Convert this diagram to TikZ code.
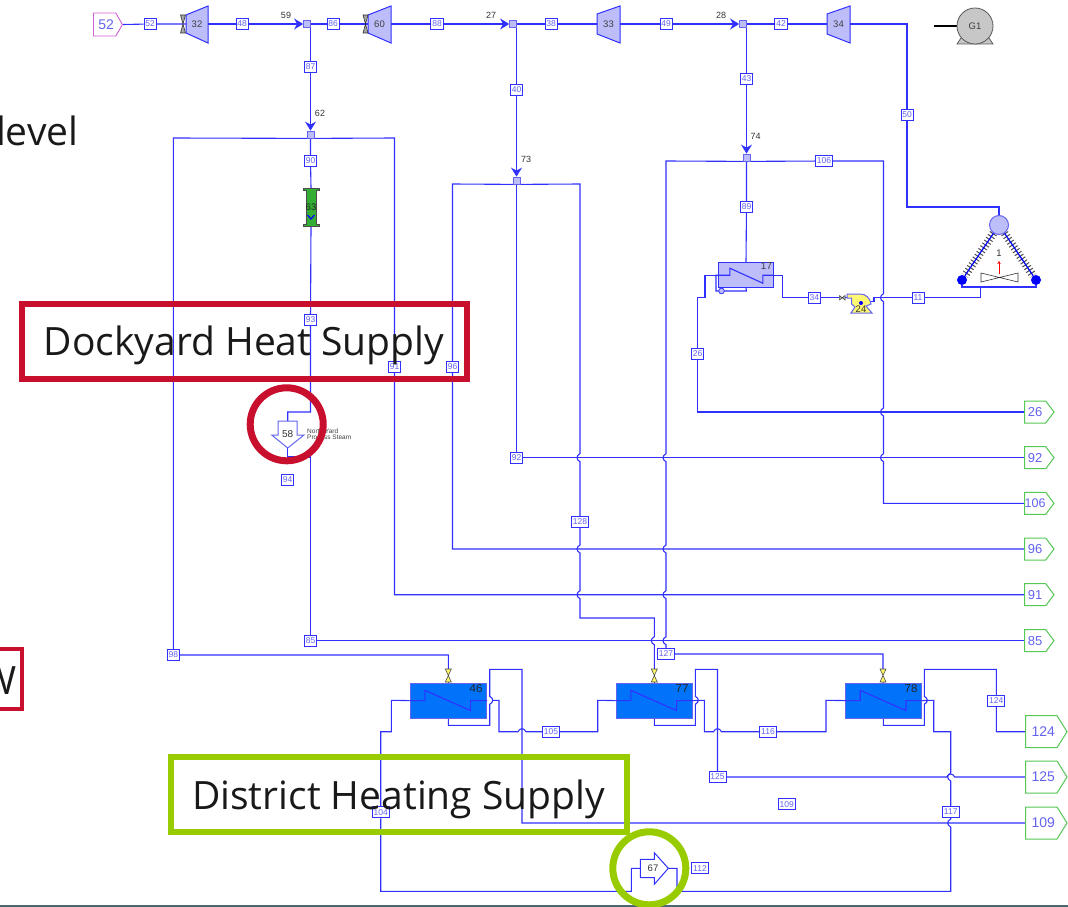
\documentclass[tikz,border=0pt]{standalone}
\usepackage{fontspec}
\setmainfont{Liberation Sans}
\newfontfamily\bigf{Open Sans}
\usetikzlibrary{arrows.meta,backgrounds,shapes.symbols,calc}
\definecolor{ln}{HTML}{3030FF}
\definecolor{lt}{HTML}{6464F0}
\definecolor{eq}{HTML}{BDBDFA}
\definecolor{hx}{HTML}{0073FA}
\definecolor{crim}{HTML}{C8102E}
\definecolor{lime}{HTML}{99CC00}
\definecolor{grn}{HTML}{55C855}
\definecolor{pink}{HTML}{D060D8}
\definecolor{slate}{HTML}{4A6670}
\newcommand\fs[1]{\fontsize{#1}{#1}\selectfont}
% bump to the left (or right) on a downward vertical run
\newcommand\vjl[2]{-- (#1,#2-4) .. controls (#1-4,#2-2) and (#1-4,#2+2) .. (#1,#2+4)}
\newcommand\vjr[2]{-- (#1,#2+4) .. controls (#1+4,#2+2) and (#1+4,#2-2) .. (#1,#2-4)}
% bump upward on a rightward horizontal run
\newcommand\hju[2]{-- (#1-4,#2) .. controls (#1-2,#2-4) and (#1+2,#2-4) .. (#1+4,#2)}
\tikzset{
  conn/.style={draw=ln,line width=1.1pt},
  arr/.style={conn,-{Stealth[length=9pt,width=11pt,inset=3pt]}},
  sl/.style={draw=ln,fill=white,text=lt,font=\fs{8.5},inner sep=0pt,minimum height=11pt,minimum width=12pt,line width=0.9pt},
  slw/.style={sl,minimum width=17pt},
  junc/.style={draw=lt,fill=eq,minimum size=7pt,inner sep=0pt,line width=0.8pt},
  tag/.style={text=black!80,font=\fs{9},inner sep=0pt},
  turb/.style={draw=ln,fill=eq,line width=1pt},
  turbt/.style={text=black!75,font=\fs{9.5},inner sep=0pt,minimum width=22pt,minimum height=10pt},
  hxr/.style={draw=lt,fill=hx,minimum height=34.7pt,inner sep=0pt,line width=0.7pt},
  hxt/.style={text=black!85,font=\fs{11.5},inner sep=0pt},
  vlv/.style={minimum width=8pt,minimum height=13pt,inner sep=0pt},
  outs/.style={shape=signal,signal to=east,signal from=nowhere,signal pointer angle=106,draw=grn,fill=white,text=lt,font=\fs{13},minimum width=29.5pt,minimum height=22pt,inner sep=0pt,line width=1pt,anchor=west},
  outb/.style={outs,signal pointer angle=116,font=\fs{14},minimum width=41.5pt,minimum height=32pt},
  redbox/.style={draw=crim,line width=6pt,inner sep=0pt},
  limebox/.style={draw=lime,line width=6pt,inner sep=0pt},
  bigt/.style={font=\bigf\fs{39},text=black!90},
  ring/.style={circle,line width=7pt,minimum size=73pt,inner sep=0pt},
  spring/.style={draw=black!70,line width=8pt,dash pattern=on 1pt off 2.4pt},
}
\begin{document}
\begin{tikzpicture}[x=1pt,y=-1pt]
\useasboundingbox (0,0) rectangle (1068,907);
\clip (0,0) rectangle (1068,907);
\fill[slate] (0,905) rectangle (1068,907);

% ---------- top row ----------
\node[shape=signal,signal to=east,signal from=nowhere,signal pointer angle=120,draw=pink,fill=white,text=lt,font=\fs{14},minimum width=29pt,minimum height=23pt,inner sep=0pt,line width=0.9pt,anchor=west] (i52) at (93,24.5) {\hspace*{3pt}52};
\node[sl] (l52) at (150,24) {52};
\fill[turb] (186,15) -- (208,6) -- (208,43) -- (186,33) -- cycle;
\node[turbt] (t32) at (197,24) {32};
\node[sl] (l48) at (242,24) {48};
\node[junc] (j59) at (307,24) {};
\node[tag] (n59) at (286,15) {59};
\node[sl] (l86) at (333,24) {86};
\fill[turb] (368,15) -- (391,6) -- (391,43) -- (368,33) -- cycle;
\node[turbt] (t60) at (379.5,24) {60};
\node[sl,minimum width=13pt] (l88) at (437,24) {88};
\node[junc] (j27) at (513,24) {};
\node[tag] (n27) at (491,15) {27};
\node[sl] (l38) at (551,24) {38};
\fill[turb] (597,14) -- (620,6) -- (620,43) -- (597,34) -- cycle;
\node[turbt] (t33) at (608.5,24) {33};
\node[sl] (l49) at (666,24) {49};
\node[junc] (j28) at (743,24) {};
\node[tag] (n28) at (721,15) {28};
\node[sl,minimum width=13pt] (l42) at (781,24) {42};
\fill[turb] (827,14) -- (850,6) -- (850,43) -- (827,34) -- cycle;
\node[turbt] (t34) at (838.5,24) {34};
% turbine inlet valves
\foreach \x in {183,365.5}{
  \fill[draw=black!80,fill=black!35,line width=0.6pt] (\x-2.5,15) -- (\x+2.5,15) -- (\x-2.5,33) -- (\x+2.5,33) -- cycle;
}
% generator
\draw[black,line width=2.2pt] (933.5,26) -- (958,26);
\fill[draw=black!65,fill=black!22,line width=0.8pt] (957,44) -- (993,44) -- (989,38) -- (961,38) -- cycle;
\node[circle,draw=black!65,fill=black!22,line width=0.8pt,minimum size=36pt,inner sep=0pt,font=\fs{9.5},text=black!75] (g1) at (975,26) {G1};

% ---------- stems ----------
\node[sl] (l87) at (310.5,67) {87};
\node[sl] (l40) at (516.5,90) {40};
\node[sl] (l43) at (746.5,79) {43};
\node[junc] (j62) at (310.5,134.5) {};
\node[tag] (n62) at (320,113) {62};
\node[junc] (j73) at (516.5,180.5) {};
\node[tag] (n73) at (526,159) {73};
\node[junc] (j74) at (746.5,157.5) {};
\node[tag] (n74) at (755.5,136) {74};
\node[sl] (l90) at (310.5,161) {90};
\node[sl] (l89) at (746.5,207) {89};
\node[slw] (l106) at (824,161) {106};
\node[sl] (l50) at (907,115) {50};

% drum 63
\fill[draw=black!70,fill=green!60!black!80,line width=0.8pt] (303,188) -- (319,188) -- (319,190) -- (316,190) -- (316,224) -- (319,224) -- (319,226) -- (303,226) -- (303,224) -- (306,224) -- (306,190) -- (303,190) -- cycle;
\node[font=\fs{9.5},text=black!85,inner sep=0pt,minimum width=10pt,minimum height=38pt] (d63) at (311,207) {63};
\draw[blue,line width=1.2pt] (307.5,215) -- (311,219) -- (314.5,215);
\node[sl] (l93) at (310.5,320) {93};

% process steam sink 58
\fill[draw=lt,fill=white,line width=1pt] (278,421) -- (297,421) -- (297,435) -- (304,435) -- (287.7,448) -- (271.7,435) -- (278,435) -- cycle;
\node[tag,font=\fs{10}] (n58) at (287.7,434.5) {58};
\coordinate (s58i) at (287.7,421);
\coordinate (s58o) at (287.7,448);
\node[text=black!75,font=\fs{6.5},inner sep=0pt,anchor=west,align=left] (t58) at (307,434.5) {North Yard\\[-0.6pt]Process Steam};
\node[sl] (l94) at (287.7,480) {94};
\node[sl] (l85) at (310.5,640.7) {85};
\node[sl] (l98) at (173.3,655) {98};
\node[sl] (l91) at (394.5,367) {91};
\node[sl] (l96) at (452.5,367) {96};
\node[sl] (l92) at (516.5,457.7) {92};
\node[slw] (l128) at (580,522) {128};
\node[slw] (l127) at (666,654) {127};

% exchanger 17
\node[draw=ln,fill=eq,inner sep=0pt,minimum width=55.5pt,minimum height=25pt,line width=0.8pt] (h17) at (746,275.2) {};
\node[hxt,font=\fs{10},text=black!75] (n17) at (766.5,266.5) {17};
\node[sl] (l26) at (697.5,354) {26};
\node[sl] (l34) at (814.3,297.7) {34};
\node[sl] (l11) at (918,297.7) {11};

% pump 24
\draw[draw=black!80,fill=black!30,line width=0.5pt] (839.5,295.5) -- (839.5,300) -- (845,295.5) -- (845,300) -- cycle;
\node[inner sep=0pt,minimum size=6pt] (v24) at (842.2,297.7) {};
\fill[draw=lt,fill=yellow!55,line width=1pt] (847,294) -- (860,294) .. controls (866,294) and (870,298) .. (871,304) -- (866,306) -- (872,313) -- (851,313) -- (855,307) -- (851.5,304) -- (851.5,298) -- (847,298) -- cycle;
\fill[blue] (861,303) circle[radius=2];
\node[tag,font=\fs{9.5}] (p24) at (861,309) {24};
\coordinate (p24o) at (870,301.7);

% turbine junction 1 (triangle)
\node[circle,draw=lt,fill=eq,minimum size=19pt,inner sep=0pt,line width=1pt] (c1) at (999,225) {};
\node[circle,fill=blue,minimum size=10pt,inner sep=0pt] (d1l) at (962,280) {};
\node[circle,fill=blue,minimum size=10pt,inner sep=0pt] (d1r) at (1036,280) {};
\node[tag,font=\fs{9.5}] (n1) at (999,253) {1};
\draw[red,line width=0.8pt,-{Stealth[length=3pt,width=3.5pt]}] (999,274) -- (999,261);
\draw[black!80,line width=0.6pt,fill=white] (981,273) -- (1018,282) -- (1018,273) -- (981,282) -- cycle;

% heaters
\node[vlv] (v46) at (448.3,675.5) {};
\node[vlv] (v77) at (654.3,675.5) {};
\node[vlv] (v78) at (883,675.5) {};
\foreach \x in {448.3,654.3,883}{
  \fill[draw=black!70,fill=yellow!60,line width=0.6pt] (\x-3,669) -- (\x+3,669) -- (\x-3,682) -- (\x+3,682) -- cycle;
}
\node[hxr,minimum width=76.7pt] (h46) at (448.3,700.6) {};
\node[hxr,minimum width=76.7pt] (h77) at (654.3,700.6) {};
\node[hxr,minimum width=76pt] (h78) at (883.3,700.6) {};
\node[hxt] (n46) at (476,689) {46};
\node[hxt] (n77) at (682,689) {77};
\node[hxt] (n78) at (911,689) {78};
\foreach \h in {h46,h77,h78}{
  \draw[conn] (\h.west) ++(0,0) -- ++(15.3,0) -- ++(0,-10.3) -- ++(45.7,20.3) -- ++(0,-10) -- (\h.east);
}
\draw[conn] (h17.west) -- ++(12,0) -- ++(0,-7) -- ++(33,15) -- ++(0,-8) -- (h17.east);
\draw[draw=ln,fill=eq,line width=0.8pt] (721.5,291) circle[radius=2.8];

\node[slw] (l105) at (551,731.7) {105};
\node[slw] (l116) at (768,731.7) {116};
\node[slw] (l124) at (996.3,700.7) {124};
\node[slw] (l125) at (717.5,777) {125};
\node[slw] (l109) at (786.7,804.3) {109};
\node[slw] (l117) at (950.7,811.7) {117};
\node[slw] (l104) at (380.7,812.3) {104};
\node[slw] (l112) at (700,868.3) {112};

% flash 67
\fill[draw=ln,fill=white,line width=1pt] (640.3,859.3) -- (654.3,859.3) -- (654.3,852.7) -- (668.3,868.3) -- (654.3,884.3) -- (654.3,877.7) -- (640.3,877.7) -- cycle;
\node[tag,font=\fs{9.5}] (n67) at (653,868.3) {67};
\coordinate (f67i) at (640.3,868.3);
\coordinate (f67o) at (668.3,868.3);

% outputs
\node[outs] (o85) at (1024,640.7) {85};
\node[outs] (o91) at (1024,594.7) {91};
\node[outs] (o96) at (1024,549) {96};
\node[outs,font=\fs{12.5}] (o106) at (1024,503.3) {106};
\node[outs] (o92) at (1024,457.7) {92};
\node[outs] (o26) at (1024,412) {26};
\node[outb] (o124) at (1025,731.7) {\hspace*{4pt}124};
\node[outb] (o125) at (1025,777) {\hspace*{4pt}125};
\node[outb] (o109) at (1025,823) {\hspace*{4pt}109};

% ---------- connectors ----------
\begin{scope}[on background layer]
\draw[conn] (i52.east) -- (l52) -- (t32.center);
\draw[arr] (t32.center) -- (l48) -- (j59.west);
\draw[conn] (j59.east) -- (l86) -- (t60.center);
\draw[arr] (t60.center) -- (l88) -- (j27.west);
\draw[conn] (j27.east) -- (l38) -- (t33.center);
\draw[arr] (t33.center) -- (l49) -- (j28.west);
\draw[conn] (j28.east) -- (l42) -- (t34.center);
\draw[arr] (j59.east) -- (310.5,24) -- (l87) -- (j62.north);
\draw[arr] (j27.east) -- (516.5,24) -- (l40) -- (j73.north);
\draw[arr] (j28.east) -- (746.5,24) -- (l43) -- (j74.north);
% bus 62
\draw[conn] (j62.south) -- (173.3,138) -- (l98) -- (448.3,655) -- (v46.north);
\draw[conn] (j62.south) -- (394.5,138) -- (l91) -- (394.5,594.7) -- (o91.west);
\draw[conn] (j62.south) -- (l90) -- (d63.north);
\draw[conn] (d63.south) -- (l93) -- (310.5,412) -- (287.7,412) -- (s58i);
\draw[conn] (s58o) -- (287.7,457) -- (310.5,457) -- (l85) -- (o85.west);
% bus 73
\draw[conn] (j73.south) -- (452.5,184) -- (l96) -- (452.5,549) -- (o96.west);
\draw[conn] (j73.south) -- (l92) -- (o92.west);
\draw[conn] (j73.south) -- (580,184) \vjl{580}{457.7} \vjl{580}{549} \vjl{580}{594.7} -- (580,618) -- (654.3,618) \vjl{654.3}{640.7} -- (v77.north);
% bus 74
\draw[black,line width=0.7pt] (728,161) -- (765,161);
\draw[conn] (j74.south) -- (666,161) \vjl{666}{457.7} \vjl{666}{549} \vjl{666}{594.7} \vjl{666}{640.7} -- (l127) -- (883,654) -- (v78.north);
\draw[conn] (j74.south) -- (l106) -- (883.5,161) \vjl{883.5}{297.7} \vjl{883.5}{412} \vjl{883.5}{457.7} -- (883.5,503.3) -- (o106.west);
\draw[conn] (j74.south) -- (l89) -- (h17.north);
% exchanger 17 and pump
\draw[conn] (h17.west) -- (705,275.2) -- (705,297.7) -- (697.5,297.7) -- (l26) -- (697.5,412) -- (o26.west);
\draw[conn] (h17.east) -- (782.7,275.2) -- (782.7,297.7) -- (l34) -- (v24.west);
\draw[conn] (v24.east) -- (847,297.7);
\draw[conn] (p24o) -- (874,301.7) -- (874,297.7) -- (l11) -- (980.5,297.7) -- (980.5,287);
\draw[conn] (h17.west) -- (716,275.2) -- (716,291) -- (746.5,291) -- (h17.south);
% triangle
\draw[conn] (t34.center) -- (907,24) -- (l50) -- (907,207) -- (999,207) -- (c1.north);
\draw[spring] (c1) -- (d1l);
\draw[spring] (c1) -- (d1r);
\draw[draw=blue,line width=1.2pt] (c1) -- (d1l);
\draw[draw=blue,line width=1.2pt] (c1) -- (d1r);
\draw[conn] (d1l.south) -- (962,287) -- (1036,287) -- (d1r.south);
% heater train
\draw[conn] (f67i) -- (631.3,868.3) -- (631.3,891.3) -- (380.7,891.3) -- (l104) -- (380.7,731.7) -- (391.3,731.7) -- (391.3,700.3) -- (h46.west);
\draw[conn] (h46.east) -- (486,700.3);
\draw[conn] (492,700.3) -- (499,700.3) -- (499,731.7) \hju{522}{731.7} -- (l105) -- (597.7,731.7) -- (597.7,700.3) -- (h77.west);
\draw[conn] (h77.east) -- (704.3,700.3) -- (704.3,731.7) \hju{717.5}{731.7} -- (l116) -- (826,731.7) -- (826,700.3) -- (h78.west);
\draw[conn] (h78.east) -- (933.7,700.3) -- (933.7,731.7) -- (950.7,731.7) \vjl{950.7}{777} -- (l117) \vjl{950.7}{823} -- (950.7,891.3) -- (677,891.3) -- (677,868.3) -- (f67o);
% condensate
\draw[conn] (v46.south) -- (h46.north);
\draw[conn] (v77.south) -- (h77.north);
\draw[conn] (v78.south) -- (h78.north);
\draw[conn] (h46.south) -- (448.3,725.3) -- (489.7,725.3) \vjr{489.7}{700.3} -- (489.7,669.3) -- (522,669.3) -- (522,823) -- (o109.west);
\draw[conn] (h77.south) -- (654.3,725.3) -- (695.3,725.3) \vjr{695.3}{700.3} -- (695.3,669.3) -- (717.5,669.3) -- (717.5,731.7) -- (l125);
\draw[conn] (l125) \hju{950.7}{777} -- (o125.west);
\draw[conn] (h78.south) -- (883.3,725.3) -- (924.3,725.3) \vjr{924.3}{700.3} -- (924.3,669.3) -- (996.3,669.3) -- (l124) -- (996.3,731.7) -- (o124.west);
\end{scope}

% ---------- annotation boxes ----------
\node[redbox,minimum width=445pt,minimum height=75pt] (bdock) at (244.5,341.5) {};
\node[bigt,inner sep=0pt] (tdock) at (244,345) {Dockyard Heat Supply};
\node[ring,draw=crim] (rdock) at (286.7,424.3) {};
\node[limebox,minimum width=456pt,minimum height=75pt] (bdist) at (399,794.5) {};
\node[bigt,inner sep=0pt] (tdist) at (398.5,799) {District Heating Supply};
\node[ring,draw=lime] (rdist) at (649.3,868.3) {};
\node[bigt,anchor=base east,inner sep=0pt] (tlevel) at (78.5,145) {level};
\node[draw=crim,line width=4pt,inner sep=0pt,minimum width=62pt,minimum height=60pt] (bw) at (-9,679) {};
\node[bigt,anchor=base east,inner sep=0pt] (tw) at (17,694) {W};
\end{tikzpicture}
\end{document}
